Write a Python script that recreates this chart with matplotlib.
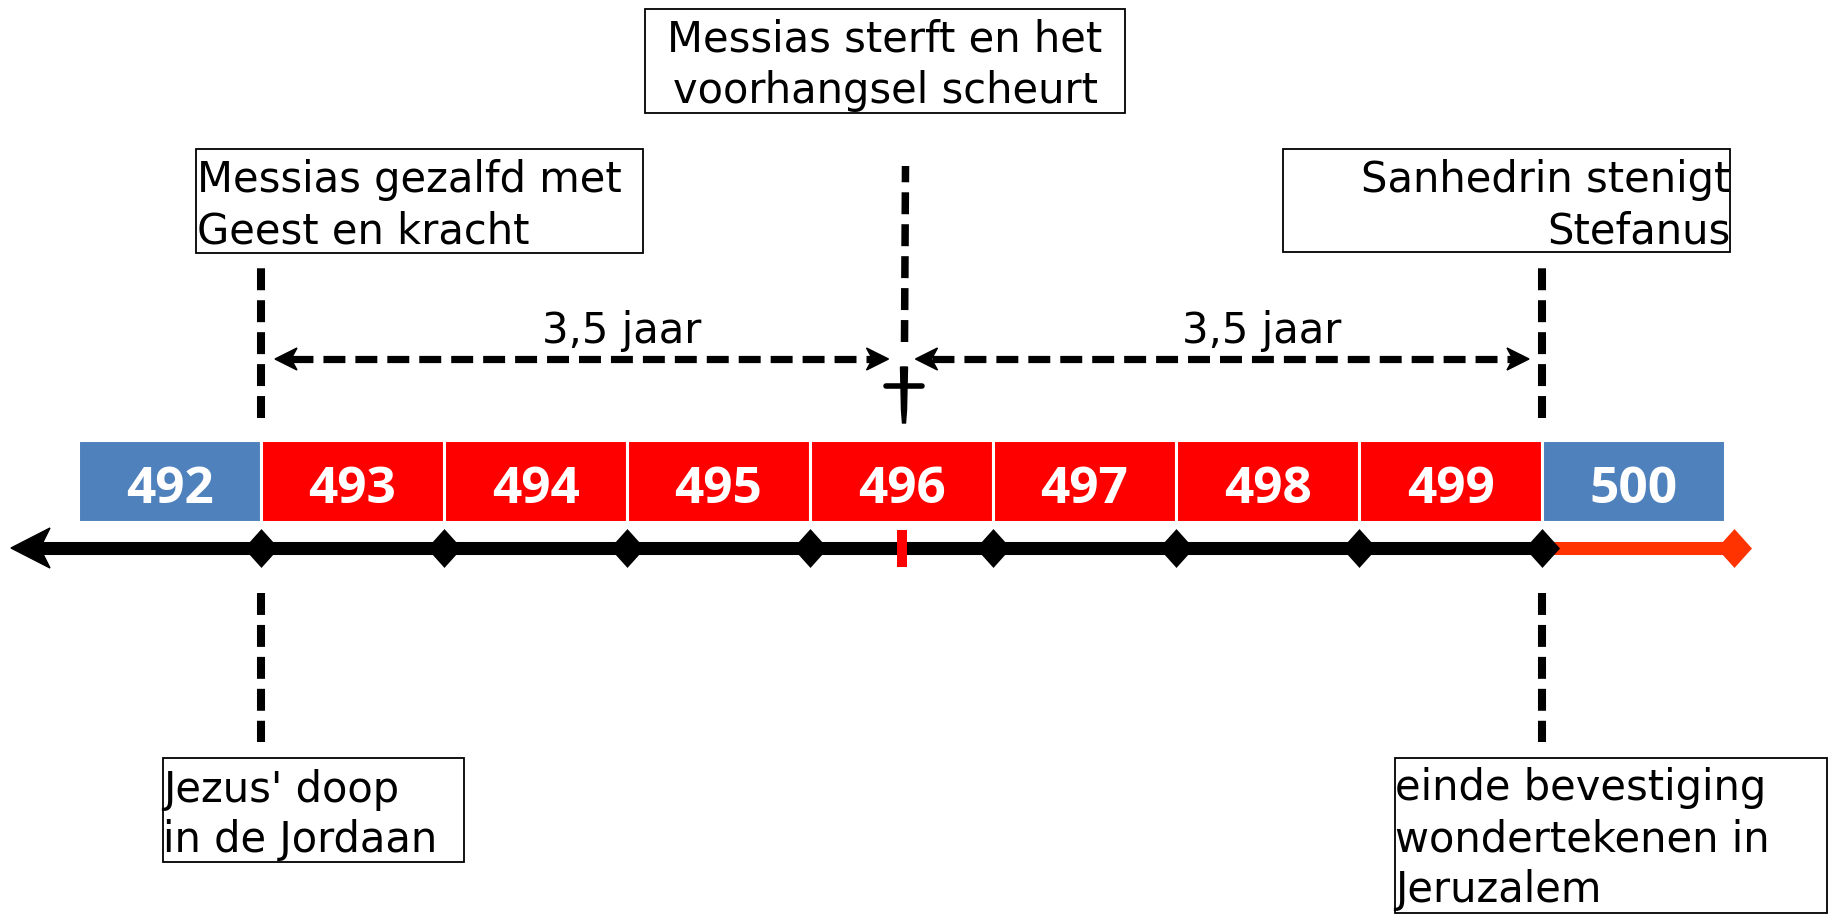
import matplotlib.pyplot as plt
from matplotlib.patches import Rectangle, Polygon

plt.rcParams['lines.scale_dashes'] = False

# year cells of the 70th week
years = [492, 493, 494, 495, 496, 497, 498, 499, 500]
cell_colors = ['#4F81BD', '#FF0000', '#FF0000', '#FF0000', '#FF0000',
               '#FF0000', '#FF0000', '#FF0000', '#4F81BD']
milestones = [493, 494, 495, 496, 497, 498, 499, 500]
midpoint = 496.5          # Messias sterft
confirm_end = 501.05      # einde van de rode lijn

periods = [(493, 496.5, '3,5 jaar'), (496.5, 500, '3,5 jaar')]

# boxes: (left px, top px, width px, height px, lines, align, text x px, baselines px)
boxes = [
    (645, 9, 480, 104, ['Messias sterft en het', 'voorhangsel scheurt'], 'center', 885, [52, 103]),
    (196, 149, 447, 104, ['Messias gezalfd met', 'Geest en kracht'], 'left', 197, [192, 243]),
    (1283, 149, 447, 103, ['Sanhedrin stenigt', 'Stefanus'], 'right', 1730, [192, 243]),
    (163, 758, 301, 104, ["Jezus' doop", 'in de Jordaan'], 'left', 163, [802, 852]),
    (1395, 758, 432, 155, ['einde bevestiging', 'wondertekenen in', 'Jeruzalem'], 'left', 1395,
     [800, 851, 902]),
]

W, H = 1829, 915
PPY = 183.0                 # pixels per year
X0 = years[0] - 78 / PPY


def px(p):
    return X0 + p / PPY


def dx(p):
    return p / PPY


fig = plt.figure(figsize=(W / 100, H / 100), dpi=100)
ax = fig.add_axes([0, 0, 1, 1])
ax.set_xlim(X0, X0 + W / PPY)
ax.set_ylim(H, 0)
ax.axis('off')

# year cells
ax.bar(years, 82, width=1, bottom=440, align='edge', color=cell_colors,
       edgecolor='white', linewidth=2.2, zorder=2)
for y in years:
    ax.text(y + 0.5, 503, str(y), ha='center', va='baseline', color='white',
            fontsize=37, fontweight='bold', family='Open Sans', zorder=3)

# timeline
line_y = 548
ax.plot([px(40), milestones[-1]], [line_y, line_y], color='black', lw=9.4,
        solid_capstyle='butt', zorder=3)
ax.plot([milestones[-1], confirm_end], [line_y, line_y], color='#FF3300', lw=9.4,
        solid_capstyle='butt', zorder=3)
ax.add_patch(Polygon([(px(11), line_y), (px(50), line_y - 20), (px(40), line_y),
                      (px(50), line_y + 20)], closed=True, color='black', zorder=3))
diamond = [(-0.9, 0), (0, 1), (0.9, 0), (0, -1), (-0.9, 0)]
ax.plot(milestones, [line_y] * len(milestones), linestyle='none', marker=diamond,
        markersize=28, markeredgewidth=0, color='black', zorder=4)
ax.plot([confirm_end], [line_y], linestyle='none', marker=diamond,
        markersize=28, markeredgewidth=0, color='#FF3300', zorder=4)
ax.plot([midpoint, midpoint], [530, 567], color='#FF0000', lw=7.2,
        solid_capstyle='butt', zorder=5)

# dashed event markers
dash = (15.8, 7.2)
for x in (milestones[0], milestones[-1]):
    ax.plot([x, x], [418, 267], color='black', lw=5.8, dashes=dash,
            dash_capstyle='butt')
    ax.plot([x, x], [593, 742], color='black', lw=5.8, dashes=dash,
            dash_capstyle='butt')
ax.plot([midpoint + dx(3), midpoint + dx(4)], [342, 166], color='black', lw=5.4,
        dashes=dash, dash_capstyle='butt')

# cross
cx = midpoint + dx(2.5)
ax.add_patch(Polygon([(cx - dx(3.5), 367), (cx + dx(3.5), 367), (cx + dx(2.5), 410),
                      (cx + dx(1.5), 423), (cx - dx(1.5), 423), (cx - dx(2.5), 410)],
                     closed=True, color='black'))
ax.plot([cx - dx(18), cx + dx(18)], [386, 386], color='black', lw=4.0,
        solid_capstyle='round')


def stealth(tip, direction, y, length=22, half=11, notch=6):
    back = tip - direction * dx(length)
    mid = tip - direction * dx(length - notch)
    ax.add_patch(Polygon([(tip, y), (back, y - half), (mid, y), (back, y + half)],
                         closed=True, color='black'))


# 3,5 jaar arrows
arrow_y = 359
for a, b, label in periods:
    lt, rt = a + dx(14), b - dx(13)
    ax.plot([lt + dx(16), rt - dx(16)], [arrow_y, arrow_y], color='black', lw=5.2,
            dashes=dash, dash_capstyle='butt')
    stealth(lt, -1, arrow_y)
    stealth(rt, 1, arrow_y)
    ax.text((a + b) / 2 + dx(40), 343, label, ha='center', va='baseline',
            fontsize=30, family='DejaVu Sans')

# text boxes
for left, top, w, h, lines, align, tx, baselines in boxes:
    ax.add_patch(Rectangle((px(left), top), dx(w), h, fill=False, edgecolor='black',
                           linewidth=1.3))
    for line, base in zip(lines, baselines):
        ax.text(px(tx), base, line, ha=align, va='baseline', fontsize=30,
                family='DejaVu Sans')

fig.savefig('out.png', dpi=100)
